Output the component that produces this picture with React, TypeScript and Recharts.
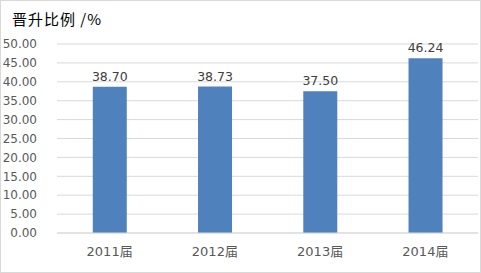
import { BarChart, Bar, XAxis, YAxis, CartesianGrid, LabelList } from "recharts";

const years = ["2011届", "2012届", "2013届", "2014届"];
const ratios = [38.7, 38.73, 37.5, 46.24];
const yTicks = [0, 5, 10, 15, 20, 25, 30, 35, 40, 45, 50];

const data = years.map((y, i) => ({ year: y, ratio: ratios[i] }));

const textColor = "#595959";
const font = "'DejaVu Sans', 'Noto Sans CJK SC', sans-serif";

export default function App() {
  return (
    <div style={{ position: "absolute", left: 0, top: 0, width: 481, height: 273, background: "#fff", fontFamily: font }}>
      <div style={{ position: "absolute", left: 0, top: 0, width: 479, height: 271, border: "1px solid #D9D9D9" }} />
      <div style={{ position: "absolute", left: 12, top: 9, fontSize: 15, letterSpacing: 1, color: "#000", fontFamily: "'Noto Sans CJK SC', sans-serif", lineHeight: "20px" }}>
        晋升比例 /%
      </div>
      <BarChart width={481} height={273} data={data} margin={{ top: 44, right: 3, bottom: 10, left: 0 }} barCategoryGap="34%">
        <CartesianGrid vertical={false} stroke="#D9D9D9" />
        <XAxis
          dataKey="year"
          height={30}
          tickLine={false}
          axisLine={{ stroke: "#D9D9D9" }}
          tick={{ fill: textColor, fontSize: 13, fontFamily: font }}
          tickMargin={8}
        />
        <YAxis
          domain={[0, 50]}
          ticks={yTicks}
          width={57}
          tickLine={false}
          axisLine={false}
          interval={0}
          tickFormatter={(v: number) => v.toFixed(2)}
          tick={{ fill: textColor, fontSize: 12, fontFamily: font }}
          tickMargin={14}
        />
        <Bar dataKey="ratio" fill="#4F81BD" isAnimationActive={false}>
          <LabelList
            dataKey="ratio"
            position="top"
            offset={6}
            formatter={(v: number) => v.toFixed(2)}
            style={{ fill: "#404040", fontSize: 12.5, fontFamily: font }}
          />
        </Bar>
      </BarChart>
    </div>
  );
}
